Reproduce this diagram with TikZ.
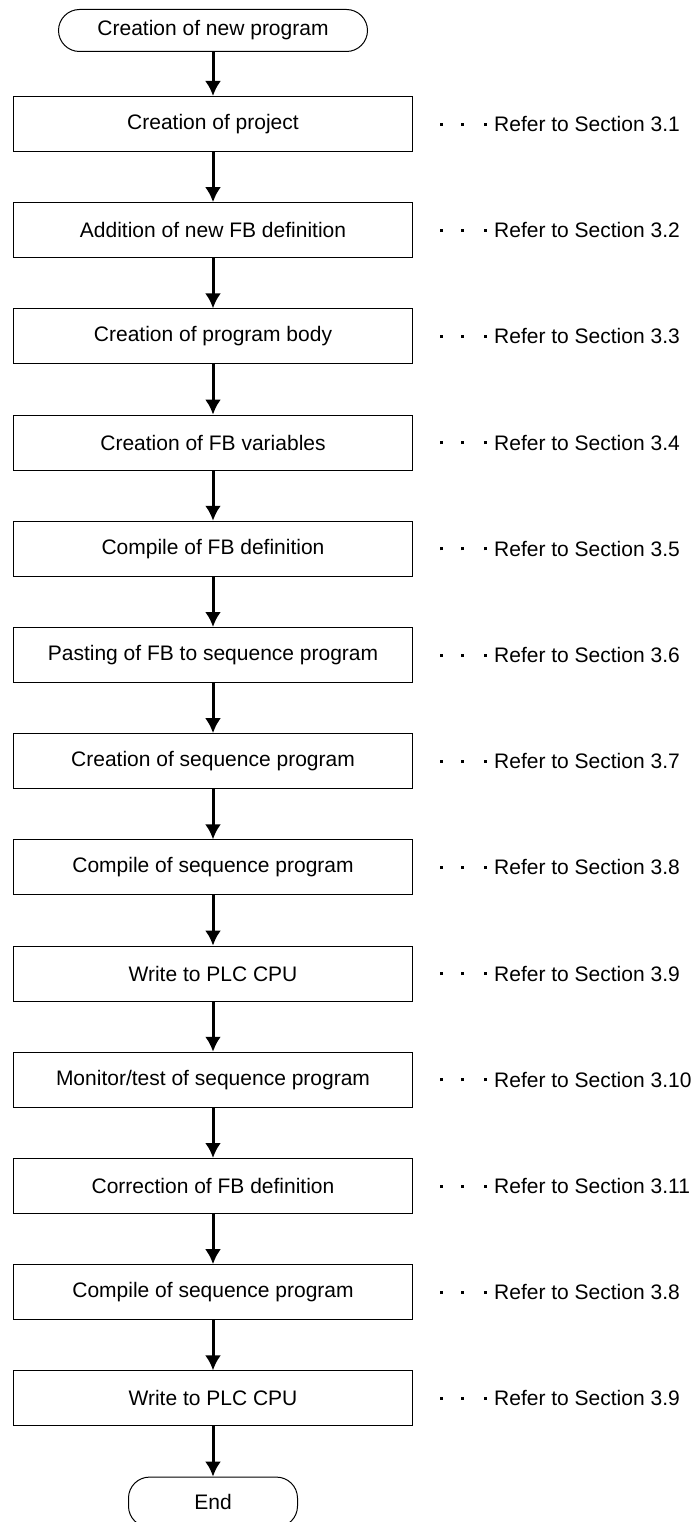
\documentclass[tikz,border=0pt]{standalone}
\usepackage{fontspec}
\setmainfont{Liberation Sans}
\usetikzlibrary{arrows.meta,positioning}

\tikzset{
  terminal/.style={draw, line width=1pt, rounded corners=21pt, minimum height=42pt, inner sep=0pt},
  stepbox/.style={draw, line width=1pt, minimum width=399pt, minimum height=55pt, inner sep=0pt},
  refnote/.style={inner sep=0pt},
  flow/.style={->, line width=3pt}
}
\newcommand{\refdot}{\raisebox{6pt}{\rule{3pt}{3pt}}}
\newcommand{\refsec}[1]{\refdot\hspace{18pt}\refdot\hspace{20pt}\refdot\hspace{7pt}Refer to Section #1}

\begin{document}
\begin{tikzpicture}[x=1pt,y=1pt,node distance=50.2pt,>={Latex[length=15pt,width=16pt]},font=\fontsize{21pt}{25pt}\selectfont]
  \useasboundingbox (0,0) rectangle (698,-1522);
  \node (start) [terminal, minimum width=309pt] at (213,-30.5) {Creation of new program};
  \node (b1) [stepbox, below=44pt of start] {Creation of project};
  \node (b2) [stepbox, below=of b1] {Addition of new FB definition};
  \node (b3) [stepbox, below=of b2] {Creation of program body};
  \node (b4) [stepbox, below=of b3] {Creation of FB variables};
  \node (b5) [stepbox, below=of b4] {Compile of FB definition};
  \node (b6) [stepbox, below=of b5] {Pasting of FB to sequence program};
  \node (b7) [stepbox, below=of b6] {Creation of sequence program};
  \node (b8) [stepbox, below=of b7] {Compile of sequence program};
  \node (b9) [stepbox, below=of b8] {Write to PLC CPU};
  \node (b10) [stepbox, below=of b9] {Monitor/test of sequence program};
  \node (b11) [stepbox, below=of b10] {Correction of FB definition};
  \node (b12) [stepbox, below=of b11] {Compile of sequence program};
  \node (b13) [stepbox, below=of b12] {Write to PLC CPU};
  \node (finish) [terminal, minimum width=169pt, minimum height=50pt, below=of b13] {End};
  % references to the manual sections
  \node (r1) [refnote, right=27pt of b1] {\refsec{3.1}};
  \node (r2) [refnote, right=27pt of b2] {\refsec{3.2}};
  \node (r3) [refnote, right=27pt of b3] {\refsec{3.3}};
  \node (r4) [refnote, right=27pt of b4] {\refsec{3.4}};
  \node (r5) [refnote, right=27pt of b5] {\refsec{3.5}};
  \node (r6) [refnote, right=27pt of b6] {\refsec{3.6}};
  \node (r7) [refnote, right=27pt of b7] {\refsec{3.7}};
  \node (r8) [refnote, right=27pt of b8] {\refsec{3.8}};
  \node (r9) [refnote, right=27pt of b9] {\refsec{3.9}};
  \node (r10) [refnote, right=27pt of b10] {\refsec{3.10}};
  \node (r11) [refnote, right=27pt of b11] {\refsec{3.11}};
  \node (r12) [refnote, right=27pt of b12] {\refsec{3.8}};
  \node (r13) [refnote, right=27pt of b13] {\refsec{3.9}};
  % flow arrows
  \draw[flow] (start) -- (b1);
  \draw[flow] (b1) -- (b2);
  \draw[flow] (b2) -- (b3);
  \draw[flow] (b3) -- (b4);
  \draw[flow] (b4) -- (b5);
  \draw[flow] (b5) -- (b6);
  \draw[flow] (b6) -- (b7);
  \draw[flow] (b7) -- (b8);
  \draw[flow] (b8) -- (b9);
  \draw[flow] (b9) -- (b10);
  \draw[flow] (b10) -- (b11);
  \draw[flow] (b11) -- (b12);
  \draw[flow] (b12) -- (b13);
  \draw[flow] (b13) -- (finish);
\end{tikzpicture}
\end{document}
